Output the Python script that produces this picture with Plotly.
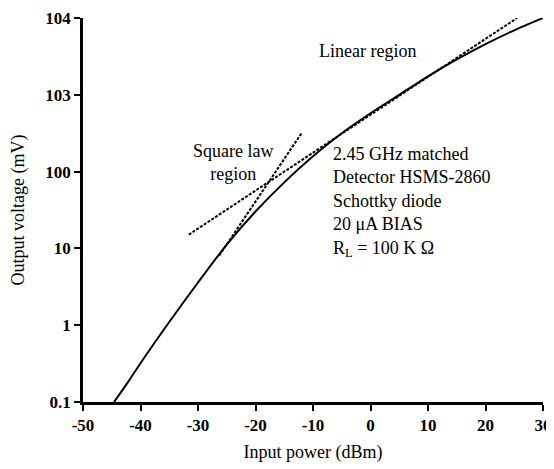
import plotly.graph_objects as go

# Detector response curve (input power dBm -> output voltage mV)
power_dbm = [-44.6, -42, -40, -35, -30, -25, -20, -15, -10, -5, 0, 5, 10, 15, 20, 25, 30]
voltage_mv = [0.1, 0.19, 0.32, 1.1, 3.6, 11.2, 30.2, 72.4, 158, 316, 575, 1000, 1738, 2884, 4571, 6918, 10000]

# Square-law tangent (dashed)
sq_x = [-26.3, -11.9]
sq_y = [8.1, 324]

# Linear-region tangent (dashed)
lin_x = [-31.6, 25.5]
lin_y = [15.1, 10000]

x_ticks = [-50, -40, -30, -20, -10, 0, 10, 20, 30]
x_ticktext = ["-50", "-40", "-30", "-20", "-10", "0", "10", "20", "30"]
y_tickvals = [0.1, 1, 10, 100, 1000, 10000]
y_ticktext = ["0.1", "1", "10", "100", "103", "104"]

FONT = "Liberation Serif"

fig = go.Figure()
fig.add_trace(go.Scatter(x=power_dbm, y=voltage_mv, mode="lines",
                         line=dict(color="black", width=2, shape="spline", smoothing=0.8),
                         showlegend=False, cliponaxis=False))
fig.add_trace(go.Scatter(x=sq_x, y=sq_y, mode="lines",
                         line=dict(color="black", width=2, dash="3px,1.5px"),
                         showlegend=False, cliponaxis=False))
fig.add_trace(go.Scatter(x=lin_x, y=lin_y, mode="lines",
                         line=dict(color="black", width=2, dash="3px,1.5px"),
                         showlegend=False, cliponaxis=False))

axis_common = dict(showline=True, linecolor="black", linewidth=2.5,
                   ticks="outside", ticklen=6, tickwidth=2, tickcolor="black",
                   showgrid=False, zeroline=False, automargin=False,
                   tickfont=dict(family=FONT, size=17, color="black", weight="bold"))

fig.update_xaxes(range=[-50, 30], tickvals=x_ticks, ticktext=x_ticktext,
                 title=dict(text="Input power (dBm)", font=dict(family=FONT, size=18, color="black"), standoff=12),
                 **axis_common)
fig.update_yaxes(type="log", range=[-1, 4], tickvals=y_tickvals, ticktext=y_ticktext,
                 title=dict(text="Output voltage (mV)", font=dict(family=FONT, size=18, color="black"), standoff=17),
                 **axis_common)

ann_font = dict(family=FONT, size=18, color="black")
annotations = [
    dict(x=0.618, y=0.915, text="Linear region", xanchor="center", yanchor="middle"),
    dict(x=0.325, y=0.625, text="Square law<br>region", xanchor="center", yanchor="middle", align="center"),
    dict(x=0.54, y=0.52,
         text="2.45 GHz matched<br>Detector HSMS-2860<br>Schottky diode<br>20 μA BIAS<br>R<sub>L</sub> = 100 K Ω",
         xanchor="left", yanchor="middle", align="left"),
]
for a in annotations:
    fig.add_annotation(xref="paper", yref="paper", showarrow=False, font=ann_font, **a)

# page body adds an 8px offset; compensate in margins/size
fig.update_layout(width=546, height=461, margin=dict(l=75, r=11, t=10, b=67),
                  plot_bgcolor="white", paper_bgcolor="white",
                  font=dict(family=FONT, color="black"))

fig.write_html("out.html")
